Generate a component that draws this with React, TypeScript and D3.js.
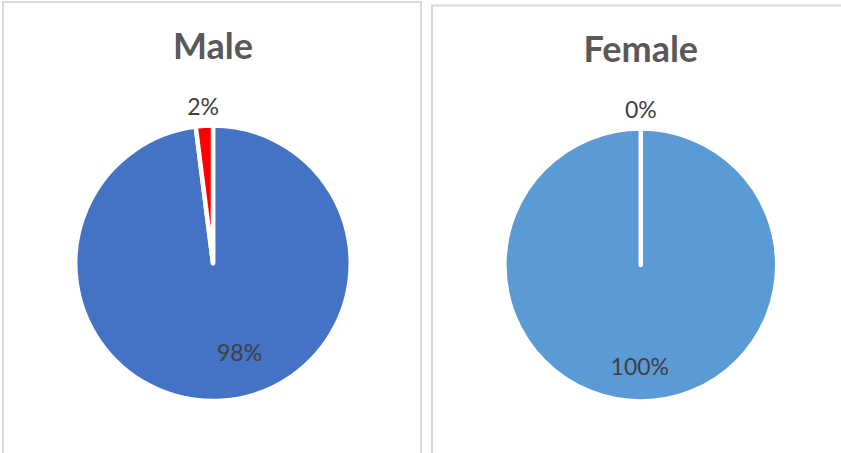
import React, { useEffect, useRef } from 'react';
import * as d3 from 'd3';

// chart data
const genders = ['Male', 'Female'];
const responses = ['Yes', 'No'];
const maleValues = [98, 2];
const femaleValues = [100, 0];
const sliceColors = [
  ['#4472C4', '#FF0000'],
  ['#5B9BD5', '#ED7D31'],
];

const W = 841;
const H = 453;

// panel layout (frame, pie centre, radius, title baseline, label nudge)
const panels = [
  { x: 3, y: 2, w: 418, cx: 213, cy: 263.3, r: 135.5, titleY: 59, nudge: [20.5, -8] },
  { x: 432, y: 5.5, w: 420, cx: 640.8, cy: 265, r: 134.2, titleY: 62, nudge: [-1, 5] },
];

const STROKE = 4.5;

const App: React.FC = () => {
  const svgRef = useRef<SVGSVGElement>(null);

  useEffect(() => {
    if (!svgRef.current) return;
    const svg = d3.select(svgRef.current);
    svg.selectAll('*').remove();

    const seriesValues = [maleValues, femaleValues];

    const pie = d3.pie<number>()
      .sort(null)
      .value(d => d)
      .startAngle(0)
      .endAngle(2 * Math.PI);

    genders.forEach((name, i) => {
      const p = panels[i];

      // chart frame
      svg.append('rect')
        .attr('x', p.x)
        .attr('y', p.y)
        .attr('width', p.w)
        .attr('height', H + 20)
        .attr('fill', 'white')
        .attr('stroke', '#d9d9d9')
        .attr('stroke-width', 2);

      // title
      svg.append('text')
        .attr('x', p.cx)
        .attr('y', p.titleY)
        .attr('text-anchor', 'middle')
        .attr('font-family', 'Lato, sans-serif')
        .attr('font-weight', 'bold')
        .attr('font-size', 36)
        .attr('fill', '#595959')
        .text(name);

      const R = p.r + STROKE / 2;
      const arc = d3.arc<d3.PieArcDatum<number>>().innerRadius(0).outerRadius(R);
      const outerLabelArc = d3.arc<d3.PieArcDatum<number>>().innerRadius(R + 20).outerRadius(R + 20);
      const innerLabelArc = d3.arc<d3.PieArcDatum<number>>().innerRadius(R * 0.7).outerRadius(R * 0.7);

      const arcs = pie(seriesValues[i]);
      const g = svg.append('g').attr('transform', `translate(${p.cx},${p.cy})`);

      g.selectAll('path')
        .data(arcs)
        .join('path')
        .attr('d', arc)
        .attr('fill', (d, j) => sliceColors[i][j])
        .attr('stroke', 'white')
        .attr('stroke-width', STROKE)
        .attr('stroke-linejoin', 'round');

      const total = d3.sum(seriesValues[i]);
      g.selectAll('text.lbl')
        .data(arcs)
        .join('text')
        .attr('class', 'lbl')
        .attr('transform', (d) => {
          const big = d.value / total > 0.5;
          const [x, y] = big ? innerLabelArc.centroid(d) : outerLabelArc.centroid(d);
          return big
            ? `translate(${x + p.nudge[0]},${y + p.nudge[1]})`
            : `translate(${x},${y})`;
        })
        .attr('text-anchor', 'middle')
        .attr('dominant-baseline', 'central')
        .attr('font-family', 'Lato, sans-serif')
        .attr('font-size', 23)
        .attr('fill', '#404040')
        .text(d => `${d.value}%`)
        .append('title')
        .text((d, j) => `${name} - ${responses[j]}: ${d.value}%`);
    });
  }, []);

  return (
    <div style={{ position: 'fixed', left: 0, top: 0, width: W, height: H, background: 'white' }}>
      <svg ref={svgRef} width={W} height={H} style={{ display: 'block' }} />
    </div>
  );
};

export default App;
